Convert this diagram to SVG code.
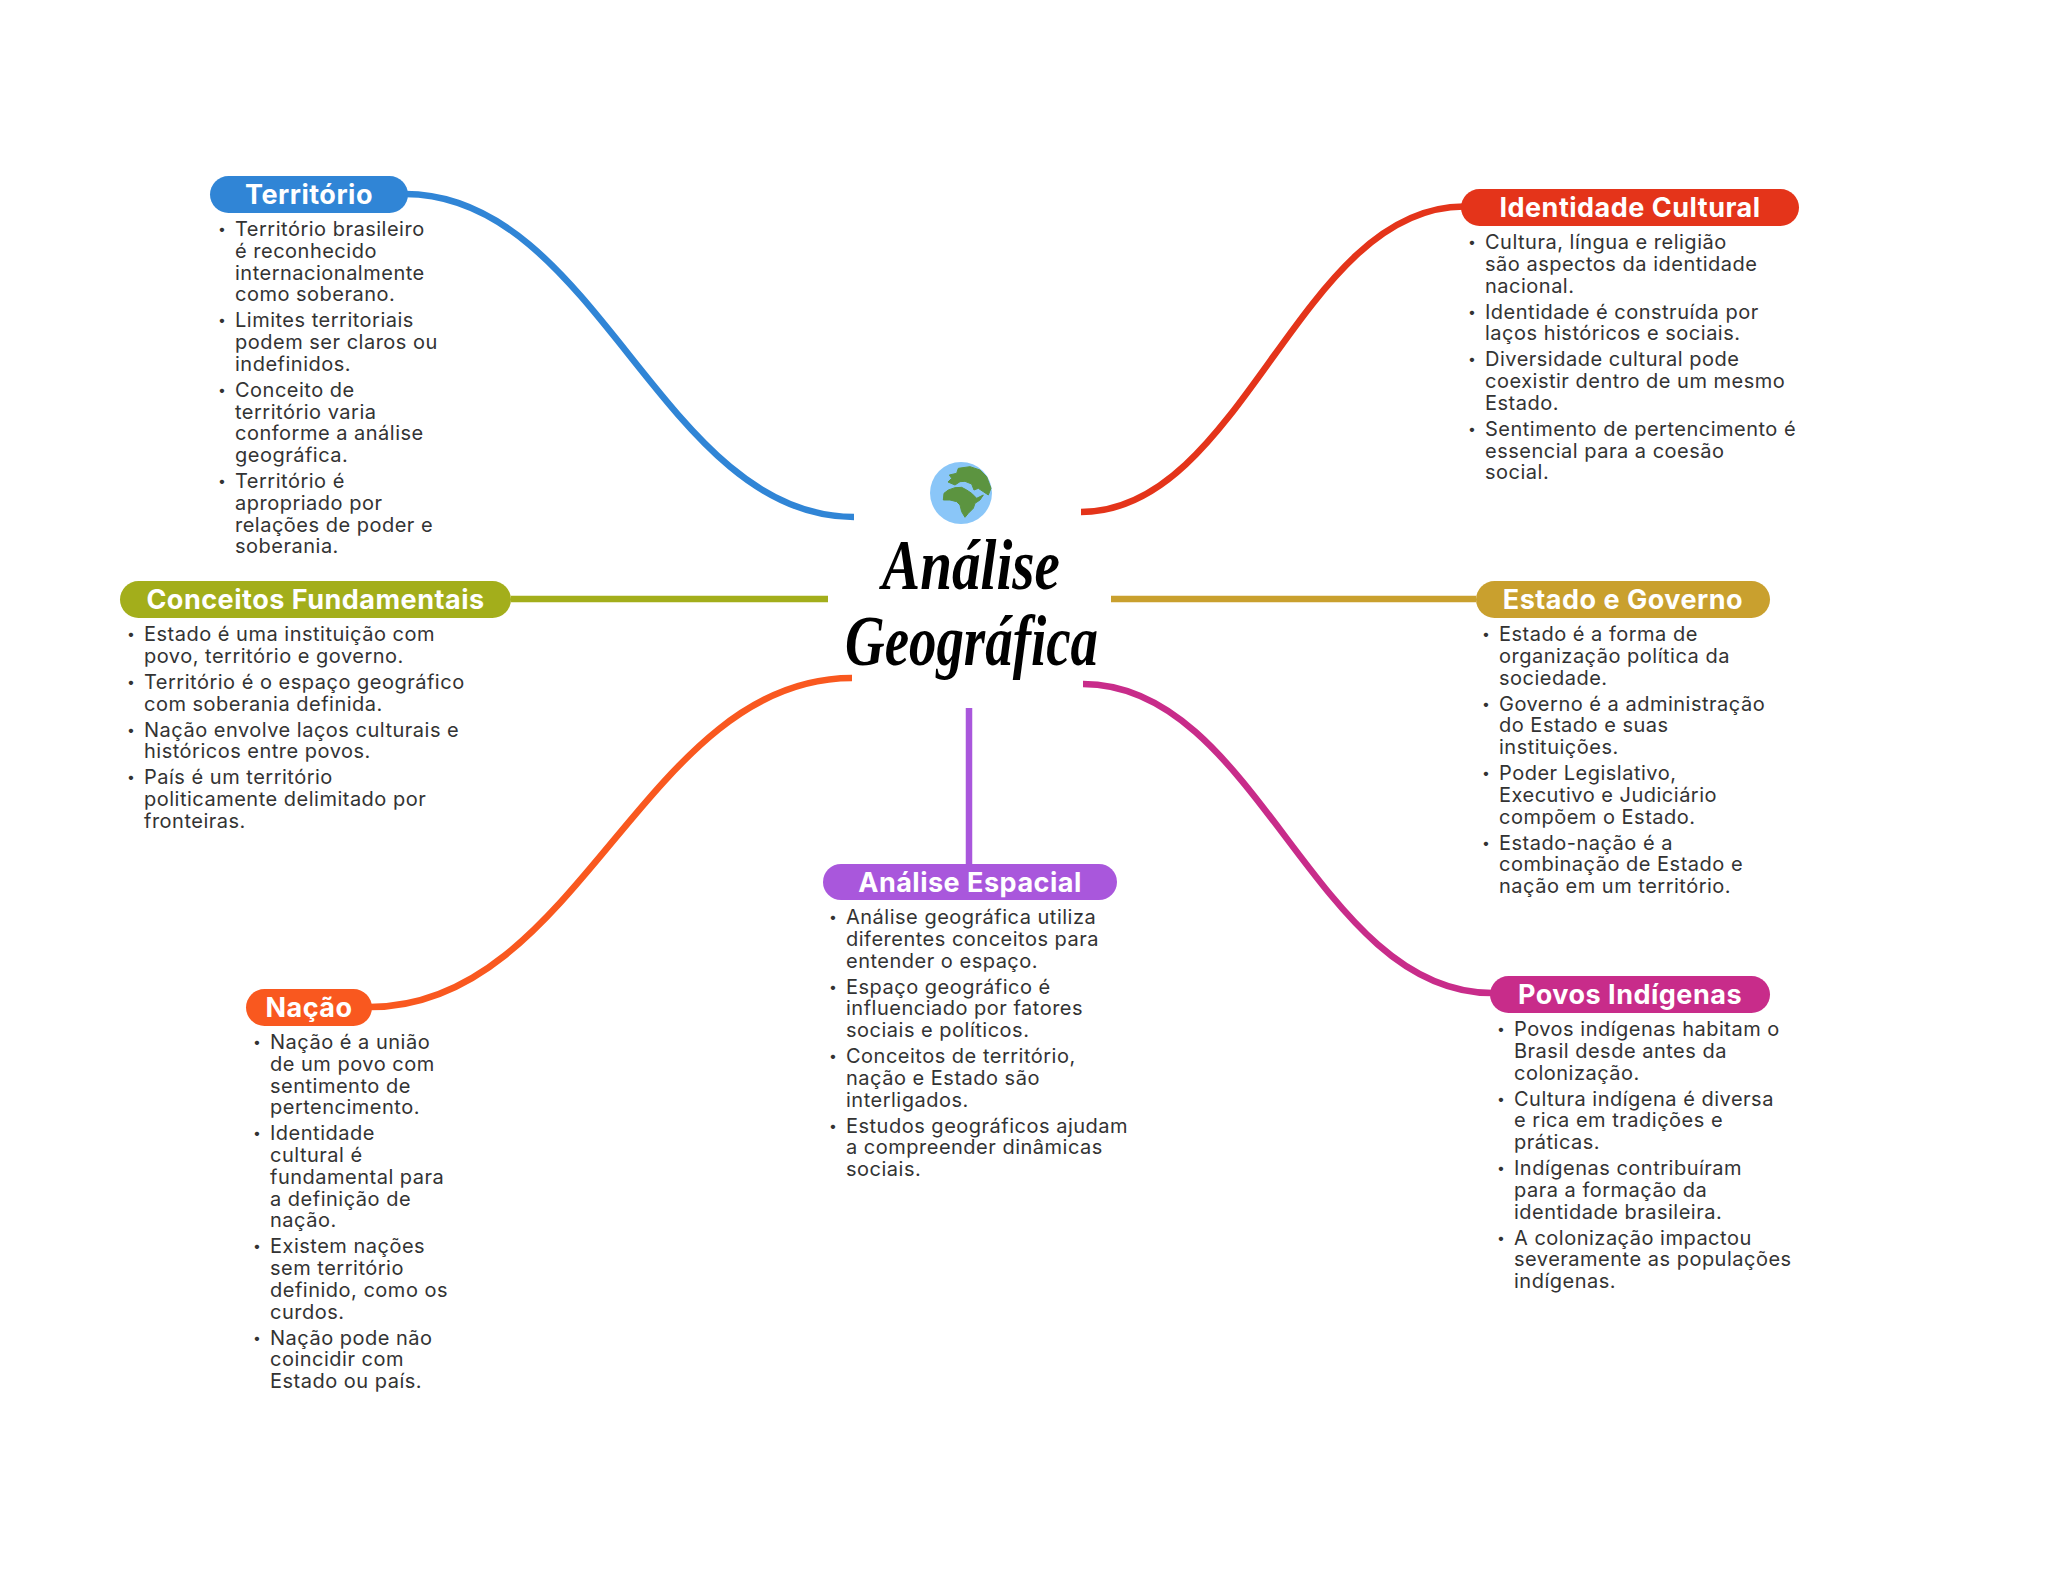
<svg xmlns="http://www.w3.org/2000/svg" width="2048" height="1569" viewBox="0 0 2048 1569">
<style>
.c{fill:none;stroke-width:6.5}
.p{font:700 27px Inter,"Open Sans",sans-serif;fill:#fff;text-anchor:middle;letter-spacing:.5px}
.b{font:400 20px Inter,"Open Sans",sans-serif;fill:#333;letter-spacing:.5px}
.d{font-size:14px;baseline-shift:2px}
.t{font:italic 700 72px "Liberation Serif",serif;fill:#000}
</style>
<rect width="2048" height="1569" fill="#fff"/>
<g id="connectors">
<path class="c" stroke="#3085d6" d="M405 194C597 194 662 517 854 517"/>
<path class="c" stroke="#e4341a" d="M1464 206.500C1299 206.500 1243 512 1081 512"/>
<path class="c" stroke="#a3ae1b" d="M511 599H828"/>
<path class="c" stroke="#c9a02e" d="M1111 599H1476"/>
<path class="c" stroke="#a957dc" d="M969 708V864"/>
<path class="c" stroke="#f9581f" d="M370 1007C580 1007 644 678 852 678"/>
<path class="c" stroke="#c82c8a" d="M1083 684C1258 684 1315 993 1492 993"/>
</g>
<g id="root">
<circle cx="961" cy="493" r="31" fill="#8ac6f8"/>
<g transform="translate(820 440) scale(.3333)" fill="#5c9440" stroke="#5c9440" stroke-width="3" stroke-linejoin="round">
<path d="M370 180L372 160 385 150 405 143 425 142 440 150 455 160 470 175 490 165 480 180 465 190 460 205 445 220 435 232 425 215 420 195 410 185 390 180Z"/>
<path d="M384 126L395 115 388 105 410 100 415 85 450 80 480 90 500 110 513 145 505 165 490 155 475 145 462 150 455 132 435 124 420 125 405 135Z"/>
</g>
<text class="t" x="882" y="589" textLength="178" lengthAdjust="spacingAndGlyphs">Análise</text>
<text class="t" x="845" y="665" textLength="253" lengthAdjust="spacingAndGlyphs">Geográfica</text>
</g>
<g id="territorio">
<rect x="210" y="176" width="198" height="37" rx="18.5" fill="#3085d6"/>
<text class="p" x="309" y="204">Território</text>
<text class="b" y="236"><tspan class="d" x="218">•</tspan><tspan x="235">Território brasileiro</tspan><tspan x="235" dy="21.77">é reconhecido</tspan><tspan x="235" dy="21.77">internacionalmente</tspan><tspan x="235" dy="21.77">como soberano.</tspan><tspan class="d" x="218" dy="26">•</tspan><tspan x="235">Limites territoriais</tspan><tspan x="235" dy="21.77">podem ser claros ou</tspan><tspan x="235" dy="21.77">indefinidos.</tspan><tspan class="d" x="218" dy="26">•</tspan><tspan x="235">Conceito de</tspan><tspan x="235" dy="21.77">território varia</tspan><tspan x="235" dy="21.77">conforme a análise</tspan><tspan x="235" dy="21.77">geográfica.</tspan><tspan class="d" x="218" dy="26">•</tspan><tspan x="235">Território é</tspan><tspan x="235" dy="21.77">apropriado por</tspan><tspan x="235" dy="21.77">relações de poder e</tspan><tspan x="235" dy="21.77">soberania.</tspan></text>
</g>
<g id="conceitos">
<rect x="120" y="581" width="391" height="37" rx="18.5" fill="#a3ae1b"/>
<text class="p" x="315.500" y="609">Conceitos Fundamentais</text>
<text class="b" y="641"><tspan class="d" x="127">•</tspan><tspan x="144">Estado é uma instituição com</tspan><tspan x="144" dy="21.77">povo, território e governo.</tspan><tspan class="d" x="127" dy="26">•</tspan><tspan x="144">Território é o espaço geográfico</tspan><tspan x="144" dy="21.77">com soberania definida.</tspan><tspan class="d" x="127" dy="26">•</tspan><tspan x="144">Nação envolve laços culturais e</tspan><tspan x="144" dy="21.77">históricos entre povos.</tspan><tspan class="d" x="127" dy="26">•</tspan><tspan x="144">País é um território</tspan><tspan x="144" dy="21.77">politicamente delimitado por</tspan><tspan x="144" dy="21.77">fronteiras.</tspan></text>
</g>
<g id="nacao">
<rect x="246" y="989" width="126" height="37" rx="18.5" fill="#f9581f"/>
<text class="p" x="309" y="1017">Nação</text>
<text class="b" y="1049"><tspan class="d" x="253">•</tspan><tspan x="270">Nação é a união</tspan><tspan x="270" dy="21.77">de um povo com</tspan><tspan x="270" dy="21.77">sentimento de</tspan><tspan x="270" dy="21.77">pertencimento.</tspan><tspan class="d" x="253" dy="26">•</tspan><tspan x="270">Identidade</tspan><tspan x="270" dy="21.77">cultural é</tspan><tspan x="270" dy="21.77">fundamental para</tspan><tspan x="270" dy="21.77">a definição de</tspan><tspan x="270" dy="21.77">nação.</tspan><tspan class="d" x="253" dy="26">•</tspan><tspan x="270">Existem nações</tspan><tspan x="270" dy="21.77">sem território</tspan><tspan x="270" dy="21.77">definido, como os</tspan><tspan x="270" dy="21.77">curdos.</tspan><tspan class="d" x="253" dy="26">•</tspan><tspan x="270">Nação pode não</tspan><tspan x="270" dy="21.77">coincidir com</tspan><tspan x="270" dy="21.77">Estado ou país.</tspan></text>
</g>
<g id="analise-espacial">
<rect x="823" y="864" width="294" height="36" rx="18" fill="#a957dc"/>
<text class="p" x="970" y="892">Análise Espacial</text>
<text class="b" y="924"><tspan class="d" x="829">•</tspan><tspan x="846">Análise geográfica utiliza</tspan><tspan x="846" dy="21.77">diferentes conceitos para</tspan><tspan x="846" dy="21.77">entender o espaço.</tspan><tspan class="d" x="829" dy="26">•</tspan><tspan x="846">Espaço geográfico é</tspan><tspan x="846" dy="21.77">influenciado por fatores</tspan><tspan x="846" dy="21.77">sociais e políticos.</tspan><tspan class="d" x="829" dy="26">•</tspan><tspan x="846">Conceitos de território,</tspan><tspan x="846" dy="21.77">nação e Estado são</tspan><tspan x="846" dy="21.77">interligados.</tspan><tspan class="d" x="829" dy="26">•</tspan><tspan x="846">Estudos geográficos ajudam</tspan><tspan x="846" dy="21.77">a compreender dinâmicas</tspan><tspan x="846" dy="21.77">sociais.</tspan></text>
</g>
<g id="identidade">
<rect x="1461" y="189" width="338" height="37" rx="18.5" fill="#e4341a"/>
<text class="p" x="1630" y="217">Identidade Cultural</text>
<text class="b" y="249"><tspan class="d" x="1468">•</tspan><tspan x="1485">Cultura, língua e religião</tspan><tspan x="1485" dy="21.77">são aspectos da identidade</tspan><tspan x="1485" dy="21.77">nacional.</tspan><tspan class="d" x="1468" dy="26">•</tspan><tspan x="1485">Identidade é construída por</tspan><tspan x="1485" dy="21.77">laços históricos e sociais.</tspan><tspan class="d" x="1468" dy="26">•</tspan><tspan x="1485">Diversidade cultural pode</tspan><tspan x="1485" dy="21.77">coexistir dentro de um mesmo</tspan><tspan x="1485" dy="21.77">Estado.</tspan><tspan class="d" x="1468" dy="26">•</tspan><tspan x="1485">Sentimento de pertencimento é</tspan><tspan x="1485" dy="21.77">essencial para a coesão</tspan><tspan x="1485" dy="21.77">social.</tspan></text>
</g>
<g id="estado">
<rect x="1476" y="581" width="294" height="37" rx="18.5" fill="#c9a02e"/>
<text class="p" x="1623" y="609">Estado e Governo</text>
<text class="b" y="641"><tspan class="d" x="1482">•</tspan><tspan x="1499">Estado é a forma de</tspan><tspan x="1499" dy="21.77">organização política da</tspan><tspan x="1499" dy="21.77">sociedade.</tspan><tspan class="d" x="1482" dy="26">•</tspan><tspan x="1499">Governo é a administração</tspan><tspan x="1499" dy="21.77">do Estado e suas</tspan><tspan x="1499" dy="21.77">instituições.</tspan><tspan class="d" x="1482" dy="26">•</tspan><tspan x="1499">Poder Legislativo,</tspan><tspan x="1499" dy="21.77">Executivo e Judiciário</tspan><tspan x="1499" dy="21.77">compõem o Estado.</tspan><tspan class="d" x="1482" dy="26">•</tspan><tspan x="1499">Estado-nação é a</tspan><tspan x="1499" dy="21.77">combinação de Estado e</tspan><tspan x="1499" dy="21.77">nação em um território.</tspan></text>
</g>
<g id="povos">
<rect x="1490" y="976" width="280" height="37" rx="18.5" fill="#c82c8a"/>
<text class="p" x="1630" y="1004">Povos Indígenas</text>
<text class="b" y="1036"><tspan class="d" x="1497">•</tspan><tspan x="1514">Povos indígenas habitam o</tspan><tspan x="1514" dy="21.77">Brasil desde antes da</tspan><tspan x="1514" dy="21.77">colonização.</tspan><tspan class="d" x="1497" dy="26">•</tspan><tspan x="1514">Cultura indígena é diversa</tspan><tspan x="1514" dy="21.77">e rica em tradições e</tspan><tspan x="1514" dy="21.77">práticas.</tspan><tspan class="d" x="1497" dy="26">•</tspan><tspan x="1514">Indígenas contribuíram</tspan><tspan x="1514" dy="21.77">para a formação da</tspan><tspan x="1514" dy="21.77">identidade brasileira.</tspan><tspan class="d" x="1497" dy="26">•</tspan><tspan x="1514">A colonização impactou</tspan><tspan x="1514" dy="21.77">severamente as populações</tspan><tspan x="1514" dy="21.77">indígenas.</tspan></text>
</g>
</svg>
